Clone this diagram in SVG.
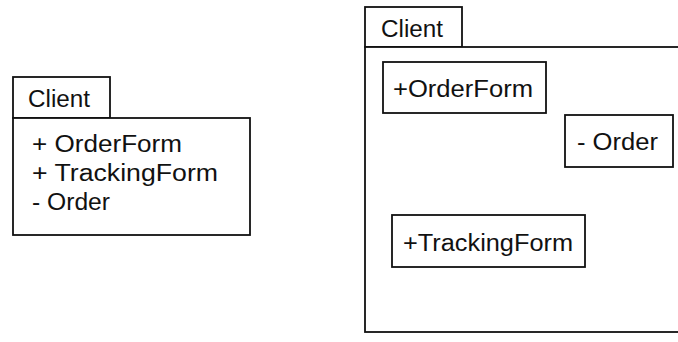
<svg xmlns="http://www.w3.org/2000/svg" width="678" height="342" viewBox="0 0 678 342">
<style>
.box{fill:#fff;stroke:#111;stroke-width:1.8}
.t{font-family:"Liberation Sans",Arial,sans-serif;font-size:23.5px;fill:#111}
</style>
<rect width="678" height="342" fill="#fff"/>
<g id="client-left">
<rect class="box" x="13" y="77" width="97" height="41"/>
<rect class="box" x="13" y="118" width="237" height="117"/>
<text class="t" x="28" y="107" textLength="62" lengthAdjust="spacingAndGlyphs">Client</text>
<text class="t" x="32" y="152" textLength="150" lengthAdjust="spacingAndGlyphs">+ OrderForm</text>
<text class="t" x="32" y="181" textLength="186" lengthAdjust="spacingAndGlyphs">+ TrackingForm</text>
<text class="t" x="32" y="210" textLength="78" lengthAdjust="spacingAndGlyphs">- Order</text>
</g>
<g id="client-right">
<rect class="box" x="365" y="7" width="97" height="40"/>
<rect class="box" x="365" y="47" width="330" height="285"/>
<text class="t" x="381" y="37" textLength="62" lengthAdjust="spacingAndGlyphs">Client</text>
</g>
<g id="orderform">
<rect class="box" x="383" y="62" width="163" height="51"/>
<text class="t" x="393" y="97" textLength="140" lengthAdjust="spacingAndGlyphs">+OrderForm</text>
</g>
<g id="order">
<rect class="box" x="565" y="115" width="108" height="52"/>
<text class="t" x="577" y="150" textLength="81" lengthAdjust="spacingAndGlyphs">- Order</text>
</g>
<g id="trackingform">
<rect class="box" x="392" y="215" width="193" height="52"/>
<text class="t" x="403" y="251" textLength="170" lengthAdjust="spacingAndGlyphs">+TrackingForm</text>
</g>
<g id="connectors"></g>
</svg>
